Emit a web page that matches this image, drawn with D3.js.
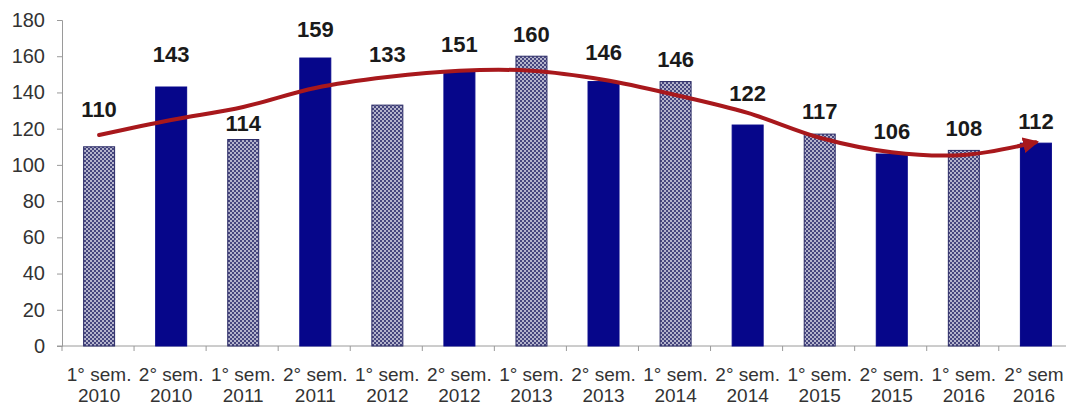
<!DOCTYPE html>
<html>
<head>
<meta charset="utf-8">
<script src="https://cdn.jsdelivr.net/npm/d3@7"></script>
<style>
  html, body { margin: 0; padding: 0; background: #ffffff; }
  svg { display: block; }
  text { font-family: "Liberation Sans", Arial, sans-serif; }
</style>
</head>
<body>
<svg id="chart" width="1066" height="405"></svg>
<script>
// Semester categories (two-line labels)
const semesters = ["1° sem.", "2° sem.", "1° sem.", "2° sem.", "1° sem.", "2° sem.", "1° sem.",
                   "2° sem.", "1° sem.", "2° sem.", "1° sem.", "2° sem.", "1° sem.", "2° sem"];
const years = ["2010", "2010", "2011", "2011", "2012", "2012", "2013",
               "2013", "2014", "2014", "2015", "2015", "2016", "2016"];
// Bar values per semester
const values = [110, 143, 114, 159, 133, 151, 160, 146, 146, 122, 117, 106, 108, 112];
// Trend curve values at each semester
const trend = [116.5, 124.8, 132, 142.5, 148.5, 152, 152, 147, 138.6, 128.7, 115, 107, 105.5, 112.5];
// Y axis ticks
const yTicks = [0, 20, 40, 60, 80, 100, 120, 140, 160, 180];

const categories = semesters.map((s, i) => s + "|" + years[i]);

// Pixel lift of each value label above its bar top
const labelLift = [30, 25, 9, 21, 43, 21, 14, 22, 15, 24, 15, 15, 14, 14];

const svg = d3.select("#chart");

const x = d3.scaleBand()
  .domain(categories)
  .range([62, 1073])
  .paddingInner(0.57)
  .paddingOuter(0.3);

const y = d3.scaleLinear().domain([0, 180]).range([346, 20]);

const defs = svg.append("defs");

// Checkered fill for first-semester bars
const pat = defs.append("pattern")
  .attr("id", "checker")
  .attr("patternUnits", "userSpaceOnUse")
  .attr("width", 4).attr("height", 4);
pat.append("rect").attr("width", 4).attr("height", 4).attr("fill", "#b4b4cc");
pat.append("rect").attr("x", 0).attr("y", 0).attr("width", 2).attr("height", 2).attr("fill", "#46467e");
pat.append("rect").attr("x", 2).attr("y", 2).attr("width", 2).attr("height", 2).attr("fill", "#46467e");

// Arrowhead for the trend curve
defs.append("marker")
  .attr("id", "arrow")
  .attr("viewBox", "0 0 10 10")
  .attr("refX", 8).attr("refY", 5)
  .attr("markerWidth", 4).attr("markerHeight", 4)
  .attr("markerUnits", "strokeWidth")
  .attr("orient", "auto")
  .append("path")
  .attr("d", "M0,0 L10,5 L0,10 Z")
  .attr("fill", "#a8181c");

// Y axis
const yAxis = d3.axisLeft(y).tickValues(yTicks).tickSize(5).tickPadding(12);
const gy = svg.append("g").attr("transform", "translate(62,0)").call(yAxis);
gy.select(".domain").attr("stroke", "#9a9a9a");
gy.selectAll(".tick line").attr("stroke", "#9a9a9a");
gy.selectAll(".tick text")
  .attr("font-size", 20)
  .attr("fill", "#333")
  .style("font-family", "'Liberation Sans', Arial, sans-serif");

// X axis line and tick marks at band boundaries
const step = x.step();
const x0 = x.range()[0];
svg.append("line")
  .attr("x1", 57).attr("x2", 1066)
  .attr("y1", y(0)).attr("y2", y(0))
  .attr("stroke", "#9a9a9a");
svg.append("g").selectAll("line")
  .data(d3.range(categories.length + 1))
  .join("line")
  .attr("x1", d => x0 + d * step).attr("x2", d => x0 + d * step)
  .attr("y1", y(0)).attr("y2", y(0) + 5)
  .attr("stroke", "#9a9a9a");

// Category labels: semester line and year line
const labelX = (c) => Math.min(x(c) + x.bandwidth() / 2, 1034);
const xl = svg.append("g").attr("text-anchor", "middle").attr("font-size", 19).attr("fill", "#333");
xl.selectAll("text.sem")
  .data(categories)
  .join("text")
  .attr("class", "sem")
  .attr("x", c => labelX(c))
  .attr("y", 381)
  .text((c, i) => semesters[i]);
xl.selectAll("text.yr")
  .data(categories)
  .join("text")
  .attr("class", "yr")
  .attr("x", c => labelX(c))
  .attr("y", 402)
  .text((c, i) => years[i]);

// Bars
svg.append("g").selectAll("rect")
  .data(values)
  .join("rect")
  .attr("x", (d, i) => x(categories[i]))
  .attr("width", x.bandwidth())
  .attr("y", d => y(d))
  .attr("height", d => y(0) - y(d))
  .attr("fill", (d, i) => i % 2 === 0 ? "url(#checker)" : "#06068a")
  .attr("stroke", (d, i) => i % 2 === 0 ? "#2a2a66" : "#06068a")
  .attr("stroke-width", 1);

// Trend curve
const line = d3.line()
  .x((d, i) => x(categories[i]) + x.bandwidth() / 2)
  .y(d => y(d))
  .curve(d3.curveCatmullRom.alpha(0.5));

svg.append("path")
  .datum(trend)
  .attr("d", line)
  .attr("fill", "none")
  .attr("stroke", "#a8181c")
  .attr("stroke-width", 4)
  .attr("stroke-linecap", "round")
  .attr("marker-end", "url(#arrow)");

// Value labels
svg.append("g").selectAll("text")
  .data(values)
  .join("text")
  .attr("x", (d, i) => x(categories[i]) + x.bandwidth() / 2)
  .attr("y", (d, i) => y(d) - labelLift[i])
  .attr("text-anchor", "middle")
  .attr("font-size", 22)
  .attr("font-weight", "bold")
  .attr("fill", "#1a1a1a")
  .text(d => d);
</script>
</body>
</html>
